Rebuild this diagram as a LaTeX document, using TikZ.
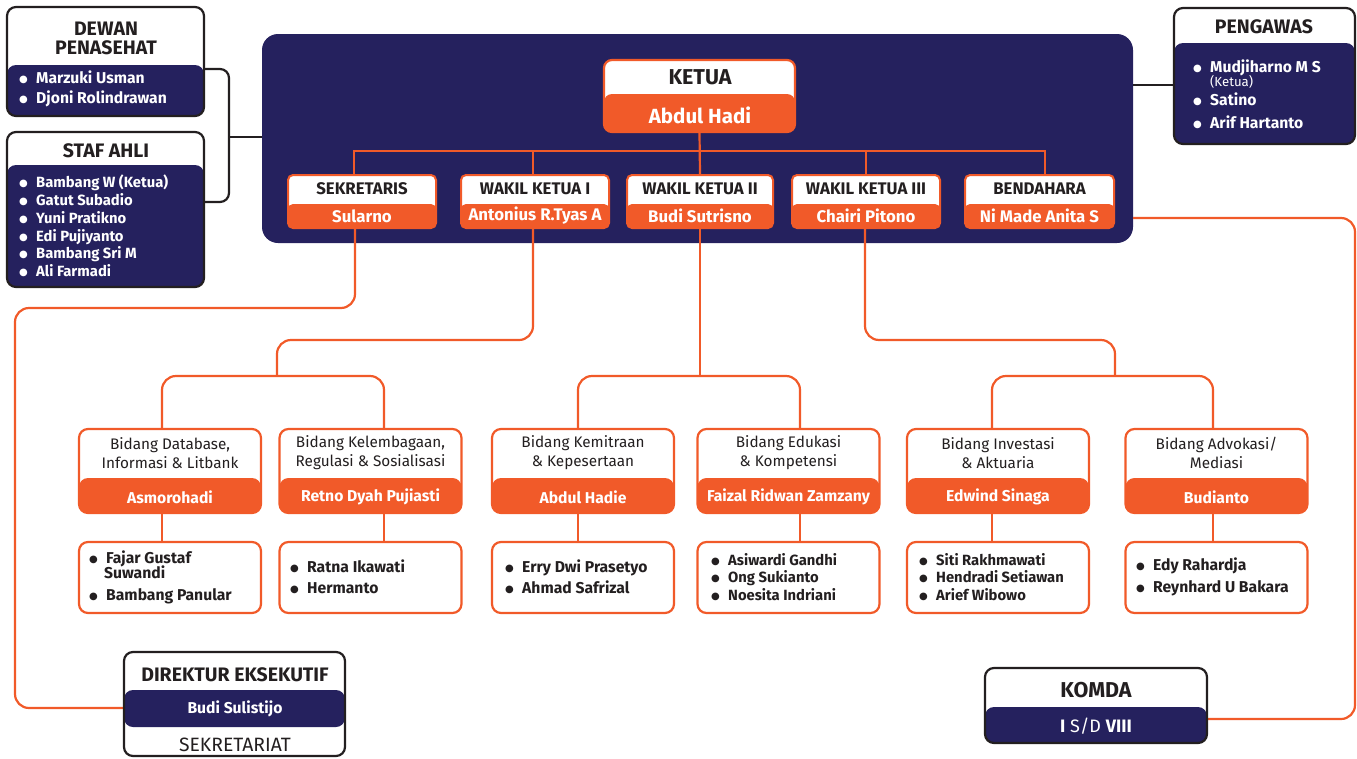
\documentclass[tikz,border=0pt]{standalone}
\usepackage{fontspec}
\setmainfont{Fira Sans}
\newfontfamily\dotfont{DejaVu Sans}
\usepackage{tikz}
\usetikzlibrary{backgrounds}
\definecolor{navy}{HTML}{25215E}
\definecolor{jingga}{HTML}{F15A29}
\definecolor{ink}{HTML}{231F20}
\newcommand{\itemdot}{\makebox[17pt][l]{\raisebox{1pt}{\dotfont\fontsize{10}{10}\selectfont ●}}}
\newcommand{\fhead}{\fontsize{19.5}{19}\selectfont\bfseries}
\newcommand{\flist}{\fontsize{15.7}{17.6}\selectfont\bfseries}
\newcommand{\ftight}{\fontsize{14.8}{17.8}\selectfont\bfseries}
\newcommand{\fbig}{\fontsize{21.5}{21}\selectfont\bfseries}
\newcommand{\foff}{\fontsize{16.8}{16}\selectfont\bfseries}
\newcommand{\fbid}{\fontsize{15.3}{19}\selectfont}
\newcommand{\fmem}{\fontsize{15.7}{17.5}\selectfont\bfseries}
\newcommand{\drawdark}{\node[darkbox]}
\newcommand{\drawoff}{\node[offbox]}
\newcommand{\drawbid}{\node[bidbox]}
\newcommand{\drawmem}{\node[membox]}
\newcommand{\drawtxt}{\node[txt]}
\tikzset{
  band/.style 2 args={path picture={\fill[#1] ([yshift=#2]path picture bounding box.south west) rectangle (path picture bounding box.south east);}},
  midband/.style={path picture={\fill[navy] ([yshift=29pt]path picture bounding box.south west) rectangle ([yshift=66pt]path picture bounding box.south east);}},
  darkbox/.style={draw=ink, line width=2.2pt, fill=white, rounded corners=9pt, inner sep=0},
  offbox/.style={draw=jingga, line width=2pt, fill=white, rounded corners=5pt, inner sep=0, band={jingga}{24pt}, minimum height=53pt},
  bidbox/.style={draw=jingga, line width=2.2pt, fill=white, rounded corners=9pt, inner sep=0, band={jingga}{35pt}, minimum width=182pt, minimum height=84pt},
  membox/.style={draw=jingga, line width=2.2pt, fill=white, rounded corners=9pt, inner sep=0, minimum width=182pt, minimum height=71pt},
  txt/.style={inner sep=0, text=ink},
  wtxt/.style={inner sep=0, text=white},
  link/.style={draw=jingga, line width=2.2pt, rounded corners=14pt},
  blink/.style={draw=ink, line width=2.2pt, rounded corners=9pt},
}
\begin{document}
\begin{tikzpicture}[x=1pt, y=-1pt]
\useasboundingbox (0,0) rectangle (1357,758);
% side boxes
\drawdark[band={navy}{51pt}, minimum width=197pt, minimum height=109pt] (dewan) at (105.5,61.5) {};
\drawdark[band={navy}{122pt}, minimum width=197pt, minimum height=155pt] (staf) at (105.5,209.5) {};
\drawdark[band={navy}{101pt}, minimum width=181pt, minimum height=136pt] (peng) at (1264.5,76) {};
\drawdark[midband, minimum width=221pt, minimum height=104pt] (dir) at (234.5,704) {};
\drawdark[band={navy}{36pt}, minimum width=222pt, minimum height=75pt] (komda) at (1096,705.5) {};

\drawtxt[font=\fhead, align=center] (dewanT) at (106,38) {DEWAN\\PENASEHAT};
\drawtxt[wtxt, font=\flist, align=left, anchor=west] (dewanL) at (19,89) {\itemdot Marzuki Usman\\[2pt]\itemdot Djoni Rolindrawan};
\drawtxt[font=\fhead] (stafT) at (106,151) {STAF AHLI};
\drawtxt[wtxt, font=\ftight, align=left, anchor=west] (stafL) at (19,226) {\itemdot Bambang W (Ketua)\\\itemdot Gatut Subadio\\\itemdot Yuni Pratikno\\\itemdot Edi Pujiyanto\\\itemdot Bambang Sri M\\\itemdot Ali Farmadi};
\drawtxt[font=\fhead] (pengT) at (1264,27) {PENGAWAS};
\drawtxt[wtxt, font=\flist, align=left, anchor=west] (pengL) at (1193,94) {\itemdot Mudjiharno M S\\[-3pt]\hspace*{17pt}{\mdseries\fontsize{13.2}{14}\selectfont (Ketua)}\\[1pt]\itemdot Satino\\[5pt]\itemdot Arif Hartanto};
\drawtxt[font=\fontsize{19.5}{18}\selectfont\bfseries] (dirT) at (235,675) {DIREKTUR EKSEKUTIF};
\drawtxt[wtxt, font=\fontsize{15.7}{16}\selectfont\bfseries] (dirN) at (235,709) {Budi Sulistijo};
\drawtxt[font=\fontsize{19.3}{18}\selectfont] (dirS) at (235,745) {SEKRETARIAT};
\drawtxt[font=\fbig] (komdaT) at (1096,690) {KOMDA};
\drawtxt[wtxt, font=\fontsize{18}{19}\selectfont] (komdaN) at (1096,726) {\textbf{I} S/D \textbf{VIII}};

% pengurus inti
\node[draw=jingga, line width=2.2pt, fill=white, rounded corners=8pt, inner sep=0, band={jingga}{38pt}, minimum width=191pt, minimum height=72pt] (ketua) at (699.5,96) {};
\drawtxt[font=\fbig] (ketuaT) at (700,77) {KETUA};
\drawtxt[wtxt, font=\fontsize{20.5}{21}\selectfont\bfseries] (ketuaN) at (700,115) {Abdul Hadi};

\drawoff[minimum width=148pt] (sek) at (362,201.5) {};
\drawoff[minimum width=148pt] (wk1) at (535,201.5) {};
\drawoff[minimum width=146pt] (wk2) at (700,201.5) {};
\drawoff[minimum width=148pt] (wk3) at (866,201.5) {};
\drawoff[minimum width=149pt] (bend) at (1039.5,201.5) {};
\drawtxt[font=\foff] (sekT) at (362,189) {SEKRETARIS};
\drawtxt[font=\foff] (wk1T) at (535,189) {WAKIL KETUA I};
\drawtxt[font=\foff] (wk2T) at (700,189) {WAKIL KETUA II};
\drawtxt[font=\foff] (wk3T) at (866,189) {WAKIL KETUA III};
\drawtxt[font=\foff] (bendT) at (1039.5,189) {BENDAHARA};
\drawtxt[wtxt, font=\foff] (sekN) at (362,216) {Sularno};
\drawtxt[wtxt, font=\foff] (wk1N) at (535,216) {Antonius R.Tyas A};
\drawtxt[wtxt, font=\foff] (wk2N) at (700,216) {Budi Sutrisno};
\drawtxt[wtxt, font=\foff] (wk3N) at (866,216) {Chairi Pitono};
\drawtxt[wtxt, font=\foff] (bendN) at (1039.5,216) {Ni Made Anita S};

% bidang
\drawbid (db) at (170,471) {};
\drawbid (kel) at (370.5,471) {};
\drawbid (kem) at (583,471) {};
\drawbid (edu) at (788.5,471) {};
\drawbid (inv) at (998,471) {};
\drawbid (adv) at (1216.5,471) {};
\drawtxt[font=\fbid, align=center] (dbT) at (170,453) {Bidang Database,\\Informasi \& Litbank};
\drawtxt[font=\fbid, align=center] (kelT) at (370.5,453) {Bidang Kelembagaan,\\Regulasi \& Sosialisasi};
\drawtxt[font=\fbid, align=center] (kemT) at (583,453) {Bidang Kemitraan\\\& Kepesertaan};
\drawtxt[font=\fbid, align=center] (eduT) at (788.5,453) {Bidang Edukasi\\\& Kompetensi};
\drawtxt[font=\fbid, align=center] (invT) at (998,453) {Bidang Investasi\\\& Aktuaria};
\drawtxt[font=\fbid, align=center] (advT) at (1216.5,453) {Bidang Advokasi/\\Mediasi};
\drawtxt[wtxt, font=\fmem] (dbN) at (170,497) {Asmorohadi};
\drawtxt[wtxt, font=\fmem] (kelN) at (370.5,497) {Retno Dyah Pujiasti};
\drawtxt[wtxt, font=\fmem] (kemN) at (583,497) {Abdul Hadie};
\drawtxt[wtxt, font=\fmem] (eduN) at (788.5,497) {Faizal Ridwan Zamzany};
\drawtxt[wtxt, font=\fmem] (invN) at (998,497) {Edwind Sinaga};
\drawtxt[wtxt, font=\fmem] (advN) at (1216.5,497) {Budianto};

% anggota
\drawmem (dbm) at (170,577.5) {};
\drawmem (kelm) at (370.5,577.5) {};
\drawmem (kemm) at (583,577.5) {};
\drawmem (edum) at (788.5,577.5) {};
\drawmem (invm) at (998,577.5) {};
\drawmem (advm) at (1216.5,577.5) {};
\drawtxt[font=\fmem, align=left, anchor=west] (dbL) at (89,577) {\itemdot Fajar Gustaf\\[-2pt]\hspace*{15pt}Suwandi\\[4pt]\itemdot Bambang Panular};
\drawtxt[font=\fmem, align=left, anchor=west] (kelL) at (290,577) {\itemdot Ratna Ikawati\\[4pt]\itemdot Hermanto};
\drawtxt[font=\fmem, align=left, anchor=west] (kemL) at (505,577) {\itemdot Erry Dwi Prasetyo\\[4pt]\itemdot Ahmad Safrizal};
\drawtxt[font=\ftight, align=left, anchor=west] (eduL) at (711,577) {\itemdot Asiwardi Gandhi\\\itemdot Ong Sukianto\\\itemdot Noesita Indriani};
\drawtxt[font=\ftight, align=left, anchor=west] (invL) at (919,577) {\itemdot Siti Rakhmawati\\\itemdot Hendradi Setiawan\\\itemdot Arief Wibowo};
\drawtxt[font=\fmem, align=left, anchor=west] (advL) at (1136,577) {\itemdot Edy Rahardja\\[4pt]\itemdot Reynhard U Bakara};

\begin{scope}[on background layer]
\node[fill=navy, rounded corners=16pt, minimum width=871pt, minimum height=209pt, inner sep=0] (big) at (697.5,138.5) {};
% garis hubung
\coordinate (j1) at (354,151);
\coordinate (j2) at (533,151);
\coordinate (j4) at (866,151);
\coordinate (j5) at (1045,151);
\draw[link, sharp corners] (j1 |- sek.north) -- (j1) -- (j5) -- (j5 |- bend.north);
\draw[link] (ketua.south) -- (wk2.north);
\draw[link] (j2) -- (j2 |- wk1.north);
\draw[link] (j4) -- (j4 |- wk3.north);

\coordinate (s1) at (355,308);
\coordinate (s2) at (15,308);
\coordinate (s3) at (15,708);
\draw[link] (sek.south -| s1) -- (s1) -- (s2) -- (s3) -- (dir.west |- s3);

\coordinate (w1) at (533,340);
\coordinate (w1b) at (277,340);
\coordinate (g1) at (277,376);
\coordinate (p1) at (162,376);
\coordinate (p2) at (384,376);
\draw[link] (wk1.south -| w1) -- (w1) -- (w1b) -- (g1);
\draw[link] (p1 |- db.north) -- (p1) -- (p2) -- (p2 |- kel.north);

\coordinate (p3) at (578,376);
\coordinate (p4) at (800,376);
\draw[link] (wk2.south) -- (wk2.south |- p3);
\draw[link] (p3 |- kem.north) -- (p3) -- (p4) -- (p4 |- edu.north);

\coordinate (w3) at (865,340);
\coordinate (w3b) at (1115,340);
\coordinate (g3) at (1115,376);
\coordinate (p5) at (992,376);
\coordinate (p6) at (1213,376);
\draw[link] (wk3.south -| w3) -- (w3) -- (w3b) -- (g3);
\draw[link] (p5 |- inv.north) -- (p5) -- (p6) -- (p6 |- adv.north);

\draw[link] (p1 |- db.south) -- (p1 |- dbm.north);
\draw[link] (p2 |- kel.south) -- (p2 |- kelm.north);
\draw[link] (p3 |- kem.south) -- (p3 |- kemm.north);
\draw[link] (p4 |- edu.south) -- (p4 |- edum.north);
\draw[link] (p5 |- inv.south) -- (p5 |- invm.north);
\draw[link] (p6 |- adv.south) -- (p6 |- advm.north);

\coordinate (b1) at (1355,218);
\coordinate (b2) at (1355,719);
\draw[link] (big.east |- b1) -- (b1) -- (b2) -- (komda.east |- b2);

\coordinate (a1) at (229,69);
\coordinate (a2) at (229,202);
\coordinate (a3) at (229,137);
\coordinate (a4) at (1150,85);
\draw[blink] (dewan.east |- a1) -- (a1) -- (a2) -- (staf.east |- a2);
\draw[blink] (a3) -- (big.west |- a3);
\draw[blink] (big.east |- a4) -- (peng.west |- a4);
\end{scope}
\end{tikzpicture}
\end{document}
